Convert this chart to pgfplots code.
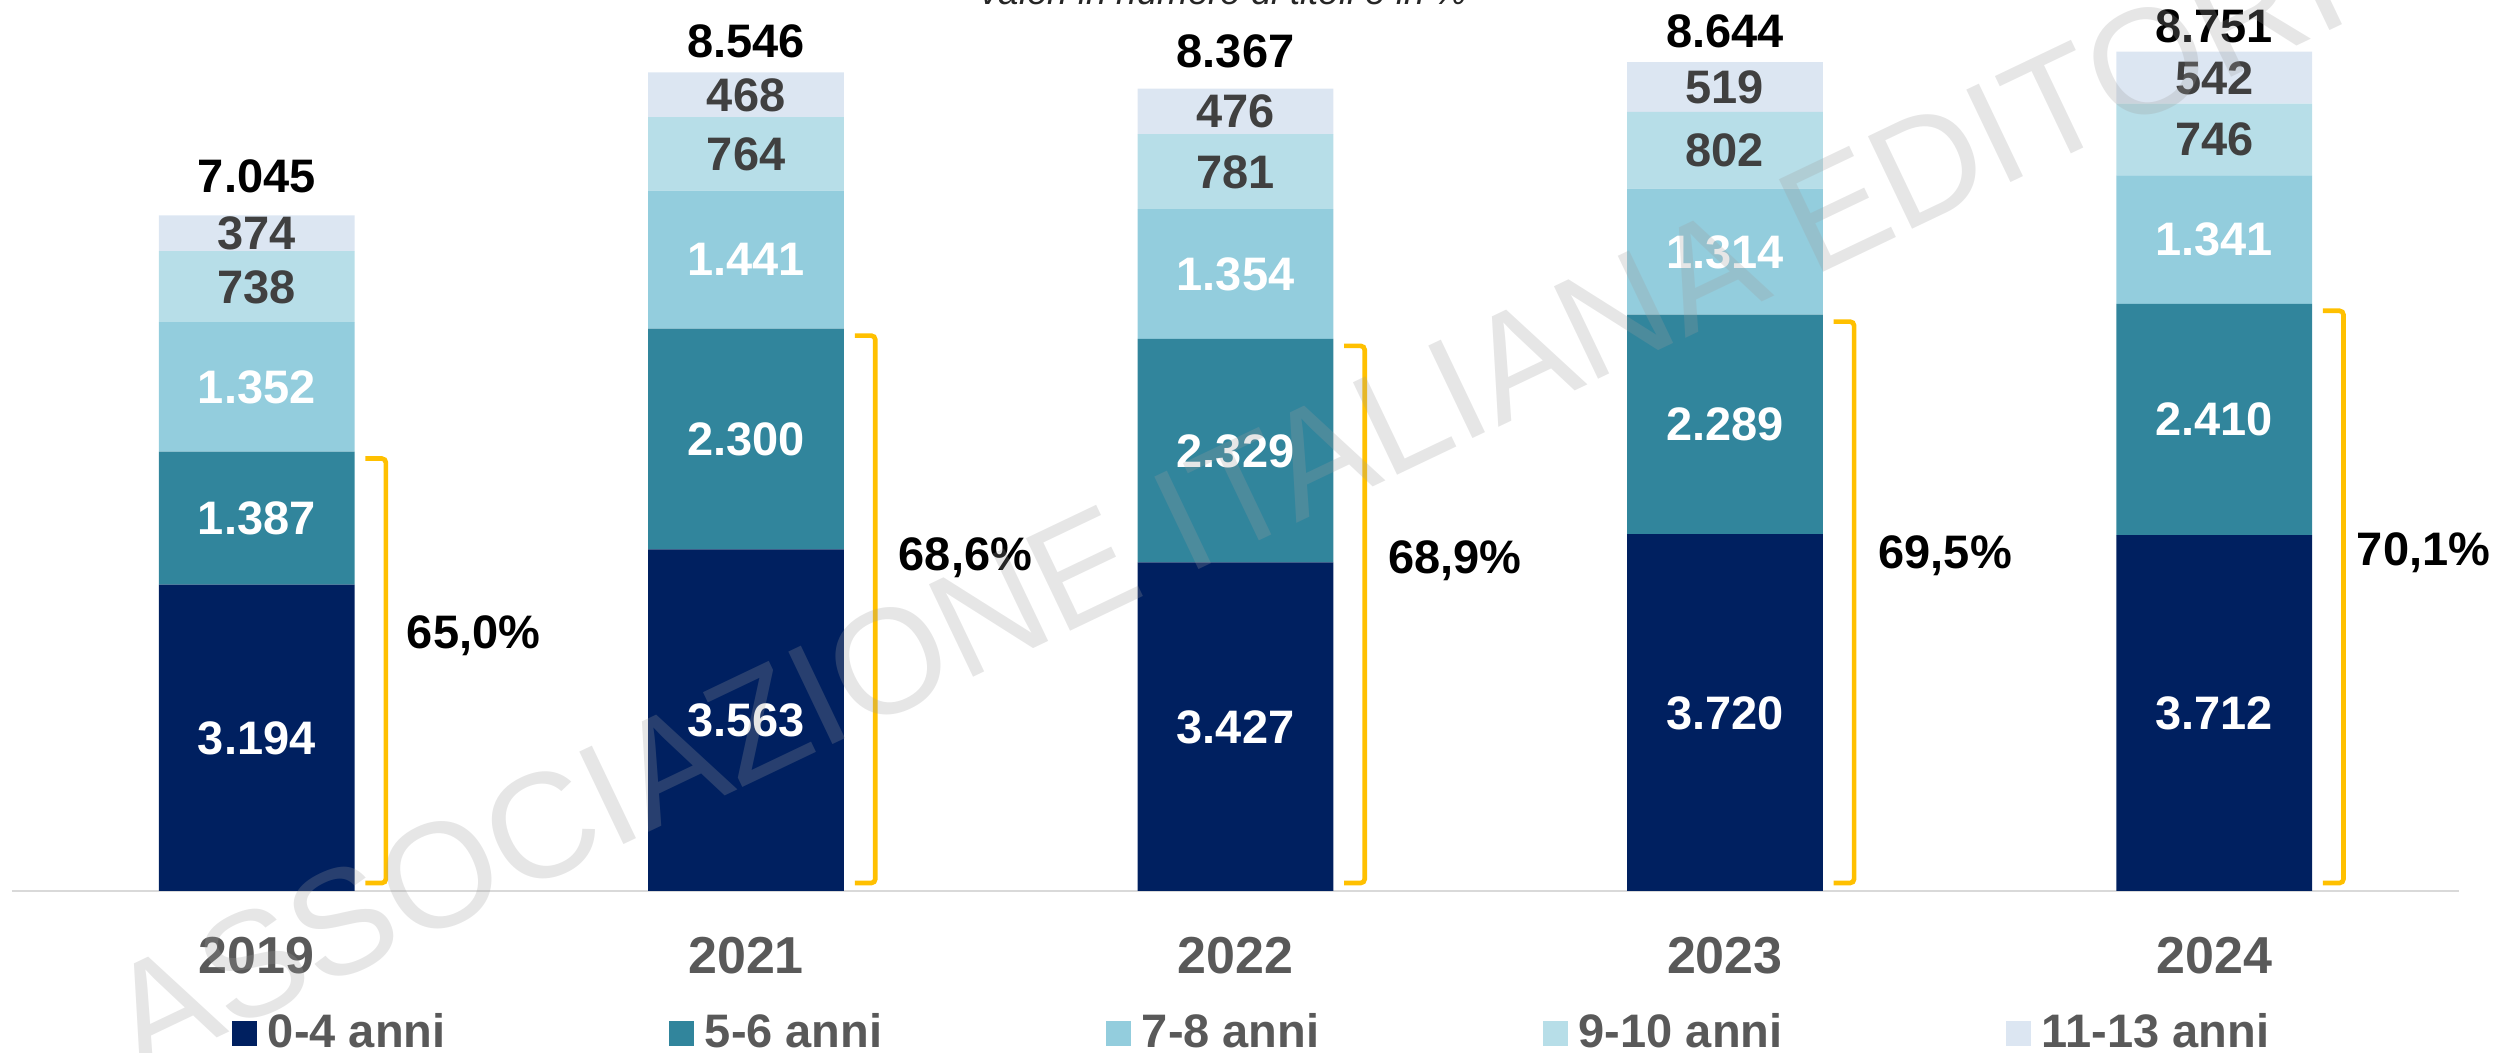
\documentclass[border=0pt]{standalone}
\usepackage{pgfplots}
\pgfplotsset{compat=1.18}
\usepackage{pgfplotstable}
\usepackage{fontspec}
\setmainfont{Liberation Sans}

\definecolor{c1}{HTML}{002060}
\definecolor{c2}{HTML}{31859C}
\definecolor{c3}{HTML}{93CDDD}
\definecolor{c4}{HTML}{B7DEE8}
\definecolor{c5}{HTML}{DCE6F2}
\definecolor{brk}{HTML}{FFC000}
\definecolor{catgrey}{HTML}{595959}
\definecolor{darkgrey}{HTML}{404040}
\definecolor{axisgrey}{HTML}{D9D9D9}
\definecolor{wm}{RGB}{157,157,157}

\pgfplotstableread{
x a b c d e
0 3194 1387 1352 738 374
1 3563 2300 1441 764 468
2 3427 2329 1354 781 476
3 3720 2289 1314 802 519
4 3712 2410 1341 746 542
}\data

\newcommand{\lab}{\fontsize{14.1bp}{16bp}\selectfont\bfseries}
\newcommand{\cat}{\fontsize{15.6bp}{18bp}\selectfont\bfseries}

\pgfplotsset{
  seglabel/.style={
    nodes near coords={\pgfmathprintnumber{\pgfplotspointmeta}},
    every node near coord/.append style={font=\lab, text=#1, anchor=center,
      inner sep=0pt, text depth=0pt},
  },
  sq/.style={legend image code/.code={\fill[##1] (0bp,-4.0bp) rectangle (7.5bp,3.5bp);}},
}

\begin{document}
\begin{tikzpicture}
\useasboundingbox (0bp,0bp) rectangle (748.2bp,315.9bp);
\begin{axis}[
  at={(3.6bp,48.6bp)}, anchor=south west,
  scale only axis, width=734.1bp, height=264.7bp,
  ybar stacked, bar width=0.4,
  xmin=-0.5, xmax=4.5, ymin=0, ymax=9200,
  axis y line=none, axis x line*=bottom,
  x axis line style={draw=axisgrey, line width=0.6bp},
  ytick=\empty,
  xtick={0,1,2,3,4}, xticklabels={2019,2021,2022,2023,2024},
  xtick style={draw=none}, major tick length=0pt,
  xticklabel style={font=\cat, text=catgrey, anchor=north, inner sep=0pt, yshift=-13.8bp},
  clip=false,
  /pgf/number format/fixed, /pgf/number format/precision=0,
  /pgf/number format/1000 sep={.}, /pgf/number format/assume math mode=true,
  point meta=explicit,
  legend columns=5,
  legend style={at={(axis description cs:0.0899,-0.1825)}, anchor=south west,
    draw=none, fill=none, inner sep=0pt, outer sep=0pt, font=\lab, text=catgrey,
    nodes={inner sep=0pt},
    /tikz/every odd column/.append style={column sep=3.3bp},
    /tikz/every even column/.append style={column sep=67bp}},
]
\addplot[fill=c1, draw=none, sq, seglabel=white] table[x=x, y=a, meta=a] {\data};
\addplot[fill=c2, draw=none, sq, seglabel=white] table[x=x, y=b, meta=b] {\data};
\addplot[fill=c3, draw=none, sq, seglabel=white] table[x=x, y=c, meta=c] {\data};
\addplot[fill=c4, draw=none, sq, seglabel=darkgrey] table[x=x, y=d, meta=d] {\data};
\addplot[fill=c5, draw=none, sq, seglabel=darkgrey] table[x=x, y=e, meta=e] {\data};
\legend{0-4 anni, 5-6 anni, 7-8 anni, 9-10 anni, 11-13 anni}

% totals
\node[font=\lab, inner sep=0pt, text depth=0pt] at (axis cs:0,7456) {7.045};
\node[font=\lab, inner sep=0pt, text depth=0pt] at (axis cs:1,8863) {8.546};
\node[font=\lab, inner sep=0pt, text depth=0pt] at (axis cs:2,8759) {8.367};
\node[font=\lab, inner sep=0pt, text depth=0pt] at (axis cs:3,8968) {8.644};
\node[font=\lab, inner sep=0pt, text depth=0pt] at (axis cs:4,9020) {8.751};

% brackets
\draw[brk, line width=1.4bp, rounded corners=1.2bp] (axis cs:0.222,4509) -- (axis cs:0.264,4509) -- (axis cs:0.264,83) -- (axis cs:0.222,83);
\draw[brk, line width=1.4bp, rounded corners=1.2bp] (axis cs:1.222,5791) -- (axis cs:1.264,5791) -- (axis cs:1.264,83) -- (axis cs:1.222,83);
\draw[brk, line width=1.4bp, rounded corners=1.2bp] (axis cs:2.222,5684) -- (axis cs:2.264,5684) -- (axis cs:2.264,83) -- (axis cs:2.222,83);
\draw[brk, line width=1.4bp, rounded corners=1.2bp] (axis cs:3.222,5937) -- (axis cs:3.264,5937) -- (axis cs:3.264,83) -- (axis cs:3.222,83);
\draw[brk, line width=1.4bp, rounded corners=1.2bp] (axis cs:4.222,6050) -- (axis cs:4.264,6050) -- (axis cs:4.264,83) -- (axis cs:4.222,83);

% shares
\node[font=\lab, anchor=west, inner sep=0pt, text depth=0pt] at (axis cs:0.3055,2701) {65,0\%};
\node[font=\lab, anchor=west, inner sep=0pt, text depth=0pt] at (axis cs:1.3106,3514) {68,6\%};
\node[font=\lab, anchor=west, inner sep=0pt, text depth=0pt] at (axis cs:2.3106,3483) {68,9\%};
\node[font=\lab, anchor=west, inner sep=0pt, text depth=0pt] at (axis cs:3.3126,3535) {69,5\%};
\node[font=\lab, anchor=west, inner sep=0pt, text depth=0pt] at (axis cs:4.290,3566) {70,1\%};
\end{axis}

\node[anchor=base, inner sep=0pt, font=\fontsize{11bp}{13bp}\selectfont\itshape, text=black!85] at (367.2bp,314.4bp) {valori in numero di titoli e in \%};

\node[anchor=base west, rotate=25.5, inner sep=0pt, font=\fontsize{44.7bp}{50bp}\selectfont, text=wm, text opacity=0.255] at (42bp,-6.6bp) {ASSOCIAZIONE ITALIANA EDITORI};
\end{tikzpicture}
\end{document}
